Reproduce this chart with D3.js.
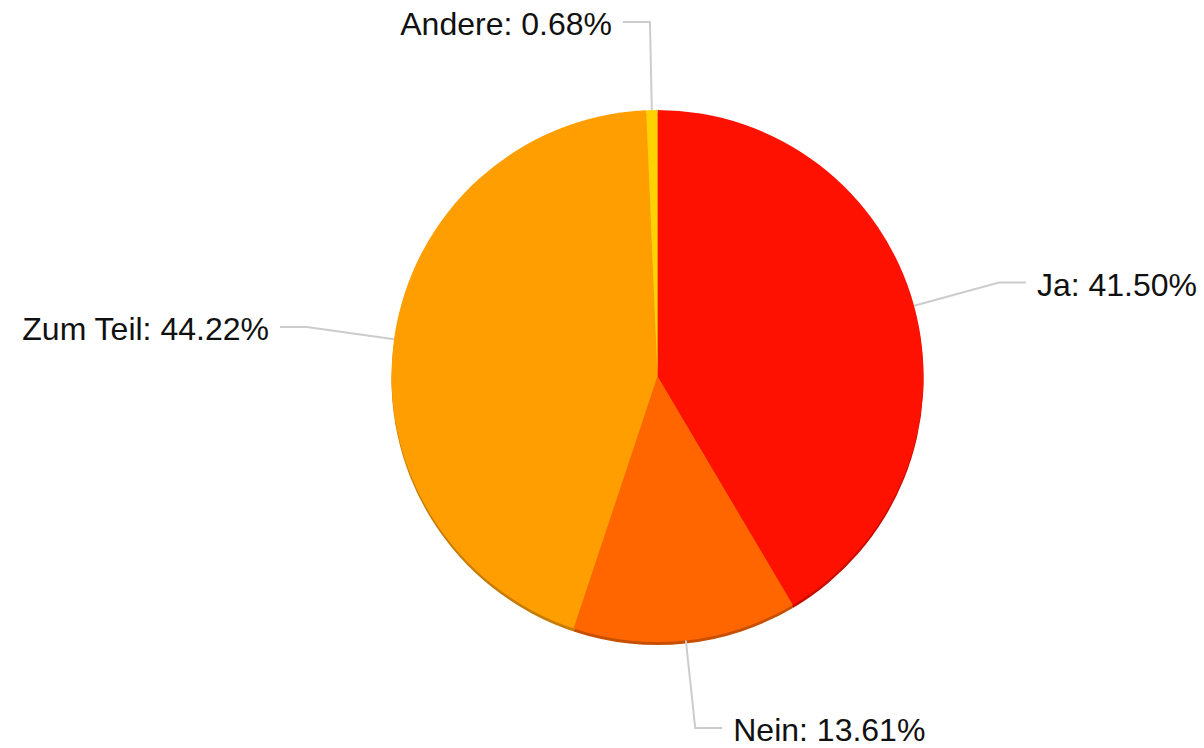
<!DOCTYPE html>
<html>
<head>
<meta charset="utf-8">
<script src="https://cdn.jsdelivr.net/npm/d3@7"></script>
<style>
  html, body { margin: 0; padding: 0; background: #ffffff; }
  svg { display: block; }
  text { font-family: "Liberation Sans", Arial, sans-serif; }
</style>
</head>
<body>
<svg id="chart" width="1204" height="748"></svg>
<script>
// ---- data ----
const categories = ["Ja", "Nein", "Zum Teil", "Andere"];
const values = [41.50, 13.61, 44.22, 0.68];
const colors = ["#ff1100", "#ff6600", "#ff9e00", "#ffd200"];

// ---- layout ----
const width = 1204, height = 748;
const cx = 657.5, cy = 376, radius = 266;
const elbowRadius = 354, tailLen = 27, textGap = 11;

const svg = d3.select("#chart");
const g = svg.append("g").attr("transform", `translate(${cx},${cy})`);

const data = categories.map((c, i) => ({ name: c, value: values[i], color: colors[i] }));

const pie = d3.pie().sort(null).value(d => d.value);
const arcs = pie(data);
const arc = d3.arc().innerRadius(0).outerRadius(radius);

// shadow rim (darker copy shifted downward)
g.append("g").attr("transform", "translate(0,3)")
  .selectAll("path").data(arcs).join("path")
  .attr("d", arc)
  .attr("fill", d => d3.color(d.data.color).darker(0.7));

g.append("g").selectAll("path").data(arcs).join("path")
  .attr("d", arc)
  .attr("fill", d => d.data.color);

// labels with leader lines
const labels = g.append("g");
arcs.forEach(d => {
  const a = (d.startAngle + d.endAngle) / 2;
  const sx = radius * Math.sin(a), sy = -radius * Math.cos(a);
  const ex = elbowRadius * Math.sin(a), ey = -elbowRadius * Math.cos(a);
  const right = Math.sin(a) >= 0 && a < Math.PI * 1.9;
  const dir = right ? 1 : -1;
  const tx = ex + dir * tailLen;
  labels.append("polyline")
    .attr("points", [[sx, sy], [ex, ey], [tx, ey]].map(p => p.join(",")).join(" "))
    .attr("fill", "none")
    .attr("stroke", "#cccccc")
    .attr("stroke-width", 2);
  labels.append("text")
    .attr("x", tx + dir * textGap)
    .attr("y", ey + 13)
    .attr("text-anchor", right ? "start" : "end")
    .attr("font-size", 32)
    .attr("fill", "#111")
    .text(`${d.data.name}: ${d.data.value.toFixed(2)}%`);
});
</script>
</body>
</html>
